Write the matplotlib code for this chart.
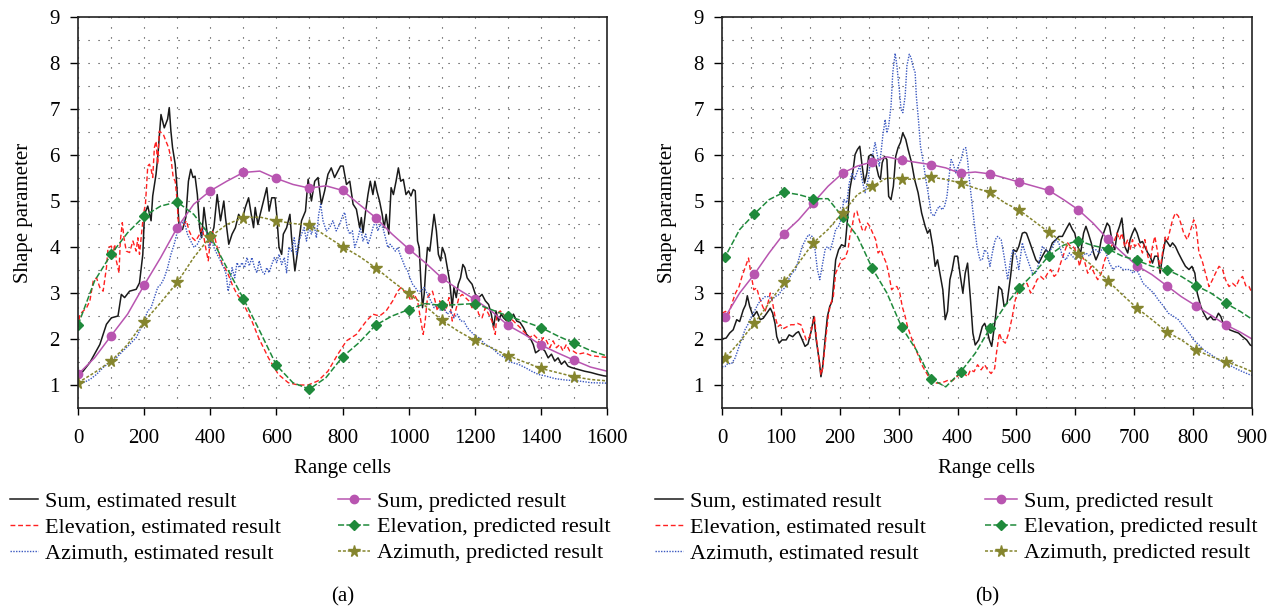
import numpy as np
import matplotlib
matplotlib.use("Agg")
import matplotlib.pyplot as plt
from matplotlib.legend import Legend

plt.rcParams['font.family'] = ['Liberation Serif', 'DejaVu Serif']
plt.rcParams['font.size'] = 15

# ---- panel (a): estimated shape parameter, pairs of (range cell, value) ----
sum_est_a = np.array([
    [0, 1.16], [36, 1.49], [66, 1.88], [86, 2.32], [101, 2.46], [121, 2.50], [131, 2.97], [141, 2.90],
    [156, 3.04], [176, 3.08], [186, 3.22], [196, 3.84], [201, 4.71], [211, 4.89], [221, 4.57], [226, 5.11],
    [236, 5.58], [241, 5.94], [251, 6.88], [261, 6.59], [271, 6.78], [276, 7.03], [281, 6.52], [286, 6.16],
    [294, 5.80], [298, 5.43], [306, 4.42], [316, 4.38], [326, 4.64], [334, 5.43], [341, 5.69], [348, 5.51],
    [354, 5.54], [361, 5.14], [368, 4.42], [374, 4.20], [381, 4.86], [386, 4.57], [391, 4.28], [401, 4.20],
    [411, 4.42], [421, 5.14], [431, 4.57], [441, 5.00], [446, 4.64], [456, 4.06], [466, 4.28], [476, 4.42],
    [486, 4.71], [496, 4.57], [506, 4.86], [516, 5.07], [524, 4.71], [531, 4.42], [536, 4.86], [544, 4.49],
    [551, 4.71], [561, 5.00], [571, 5.29], [578, 4.78], [586, 5.07], [596, 5.07], [601, 4.71], [608, 3.99],
    [616, 3.84], [621, 4.28], [631, 4.42], [641, 4.71], [646, 4.20], [656, 3.48], [666, 3.99], [676, 4.57],
    [688, 4.78], [696, 5.47], [706, 5.00], [716, 5.43], [726, 5.51], [736, 4.93], [746, 5.22], [756, 5.58],
    [766, 5.72], [776, 5.51], [786, 5.65], [794, 5.76], [802, 5.76], [812, 5.36], [822, 5.43], [832, 4.93],
    [842, 4.82], [852, 4.42], [857, 4.64], [862, 4.31], [870, 4.78], [877, 5.14], [884, 5.43], [892, 5.14],
    [898, 5.43], [904, 5.22], [912, 5.00], [920, 4.71], [926, 4.42], [932, 4.71], [940, 4.28], [947, 5.29],
    [954, 5.14], [962, 5.43], [969, 5.72], [976, 5.43], [984, 5.47], [992, 5.14], [1000, 5.22], [1007, 5.11],
    [1014, 5.25], [1020, 5.22], [1027, 4.13], [1032, 3.99], [1037, 3.26], [1042, 2.68], [1047, 2.97], [1052, 3.55],
    [1057, 3.99], [1064, 3.91], [1070, 4.28], [1077, 4.71], [1084, 4.35], [1090, 3.84], [1097, 3.70], [1102, 3.99],
    [1110, 3.84], [1117, 3.55], [1124, 3.26], [1132, 2.68], [1137, 3.12], [1144, 2.90], [1150, 3.19], [1157, 3.33],
    [1164, 3.62], [1170, 3.55], [1177, 3.33], [1184, 3.26], [1192, 3.19], [1202, 2.97], [1212, 2.90], [1222, 2.97],
    [1232, 2.83], [1242, 2.75], [1250, 2.54], [1257, 2.25], [1264, 2.61], [1272, 2.39], [1280, 2.54], [1287, 2.46],
    [1297, 2.39], [1307, 2.39], [1317, 2.54], [1327, 2.39], [1337, 2.36], [1347, 2.25], [1357, 2.10], [1367, 2.03],
    [1377, 1.88], [1384, 1.70], [1392, 1.74], [1402, 1.81], [1412, 1.74], [1422, 1.59], [1432, 1.67], [1442, 1.52],
    [1452, 1.59], [1462, 1.45], [1472, 1.52], [1482, 1.41], [1492, 1.38], [1512, 1.34], [1532, 1.30], [1552, 1.27],
    [1572, 1.23], [1590, 1.20], [1600, 1.19],
])

elev_est_a = np.array([
    [0, 2.25], [6, 2.54], [16, 2.61], [26, 2.68], [36, 2.83], [46, 3.26], [56, 3.33], [66, 3.12],
    [76, 3.04], [86, 3.55], [91, 3.99], [101, 4.02], [106, 3.84], [111, 4.06], [116, 3.70], [124, 3.44],
    [128, 4.13], [134, 4.53], [139, 4.20], [146, 3.91], [156, 3.88], [166, 4.13], [176, 3.91], [181, 4.20],
    [186, 3.84], [191, 4.20], [198, 4.71], [204, 4.93], [211, 5.76], [216, 5.80], [221, 5.69], [226, 5.51],
    [231, 6.16], [236, 6.30], [241, 5.80], [246, 6.52], [251, 6.49], [258, 6.45], [266, 6.30], [274, 6.16],
    [281, 5.94], [288, 5.51], [294, 5.43], [299, 5.07], [304, 4.49], [311, 4.42], [321, 4.49], [328, 4.57],
    [336, 4.35], [346, 4.20], [356, 4.13], [368, 4.28], [376, 4.42], [381, 4.20], [386, 3.99], [394, 3.70],
    [401, 4.20], [406, 4.35], [414, 4.20], [421, 3.99], [428, 3.84], [436, 3.62], [444, 3.55], [454, 3.41],
    [466, 3.19], [481, 2.97], [496, 2.83], [526, 2.39], [546, 2.03], [576, 1.59], [606, 1.23], [636, 1.05],
    [666, 1.00], [696, 1.00], [726, 1.09], [756, 1.30], [786, 1.67], [812, 1.96], [842, 2.10], [872, 2.39],
    [892, 2.54], [912, 2.50], [932, 2.61], [952, 2.83], [967, 3.04], [977, 3.12], [987, 3.04], [997, 2.97],
    [1007, 2.83], [1017, 2.97], [1027, 2.83], [1037, 2.39], [1044, 2.10], [1050, 2.39], [1057, 2.90], [1064, 2.97],
    [1072, 3.04], [1080, 2.83], [1087, 2.61], [1094, 2.83], [1102, 2.68], [1112, 2.61], [1122, 2.90], [1132, 2.39],
    [1142, 2.61], [1152, 2.90], [1162, 2.97], [1172, 2.90], [1182, 2.83], [1192, 2.68], [1202, 2.83], [1212, 2.54],
    [1222, 2.46], [1232, 2.68], [1242, 2.54], [1252, 2.39], [1262, 2.10], [1267, 2.54], [1277, 2.61], [1287, 2.54],
    [1297, 2.39], [1307, 2.46], [1317, 2.39], [1327, 2.32], [1337, 2.25], [1347, 2.17], [1357, 2.10], [1367, 2.03],
    [1377, 2.10], [1387, 2.03], [1397, 1.88], [1407, 2.03], [1417, 1.96], [1427, 1.81], [1437, 1.96], [1447, 1.81],
    [1457, 1.88], [1467, 1.74], [1477, 1.88], [1487, 1.74], [1497, 1.74], [1512, 1.67], [1532, 1.70], [1552, 1.64],
    [1572, 1.62], [1600, 1.60],
])

az_est_a = np.array([
    [0, 1.01], [16, 1.05], [36, 1.12], [56, 1.23], [76, 1.38], [96, 1.49], [116, 1.59], [136, 1.74],
    [156, 1.88], [176, 2.03], [196, 2.32], [211, 2.61], [221, 2.68], [231, 2.90], [241, 3.12], [251, 3.19],
    [261, 3.33], [271, 3.55], [281, 3.84], [291, 4.06], [301, 4.35], [311, 4.49], [321, 4.57], [331, 4.28],
    [341, 4.13], [351, 3.99], [361, 4.06], [371, 4.20], [381, 4.42], [388, 4.35], [396, 3.99], [404, 4.13],
    [411, 3.99], [421, 3.84], [431, 3.70], [441, 3.55], [448, 3.41], [454, 3.04], [461, 3.26], [466, 3.55],
    [474, 3.33], [481, 3.66], [488, 3.55], [496, 3.66], [504, 3.55], [511, 3.77], [518, 3.59], [526, 3.77],
    [534, 3.55], [541, 3.44], [548, 3.70], [556, 3.48], [564, 3.41], [571, 3.55], [578, 3.44], [586, 3.62],
    [594, 3.77], [601, 3.66], [608, 3.84], [616, 3.62], [624, 3.77], [631, 3.44], [638, 3.99], [646, 3.91],
    [654, 4.20], [661, 3.84], [668, 4.13], [676, 4.28], [684, 4.42], [691, 4.13], [698, 4.42], [706, 4.28],
    [714, 4.49], [721, 4.20], [728, 4.71], [734, 4.93], [741, 4.57], [751, 4.35], [761, 4.42], [771, 4.57],
    [781, 4.35], [791, 4.49], [802, 4.71], [807, 4.75], [814, 4.42], [822, 4.28], [830, 4.35], [837, 3.99],
    [847, 4.20], [854, 4.42], [862, 4.13], [870, 4.28], [877, 4.06], [884, 4.20], [892, 4.42], [900, 4.57],
    [907, 4.35], [914, 4.49], [922, 4.42], [930, 4.20], [937, 3.99], [944, 4.06], [952, 3.99], [960, 3.91],
    [967, 3.99], [974, 3.84], [982, 3.70], [990, 3.55], [997, 3.48], [1004, 3.33], [1012, 3.19], [1020, 3.12],
    [1028, 3.04], [1037, 3.04], [1047, 3.12], [1057, 2.97], [1067, 2.83], [1077, 2.68], [1087, 2.75], [1097, 2.61],
    [1107, 2.68], [1117, 2.54], [1127, 2.61], [1137, 2.46], [1147, 2.54], [1157, 2.39], [1167, 2.39], [1177, 2.25],
    [1187, 2.17], [1197, 2.10], [1212, 2.03], [1232, 1.88], [1252, 1.81], [1272, 1.67], [1292, 1.59], [1312, 1.49],
    [1332, 1.45], [1352, 1.38], [1372, 1.30], [1392, 1.23], [1412, 1.20], [1442, 1.14], [1472, 1.11], [1512, 1.09],
    [1552, 1.05], [1600, 1.04],
])

# ---- panel (a): predicted shape parameter, sampled every 50 cells ----
pred_x_a = np.arange(0, 1601, 50)
sum_pred_a = [1.23, 1.59, 2.07, 2.54, 3.17, 3.77, 4.42, 4.93, 5.22, 5.43, 5.62, 5.65, 5.49, 5.36, 5.28, 5.33, 5.23,
              4.93, 4.64, 4.28, 3.96, 3.66, 3.33, 3.08, 2.86, 2.61, 2.30, 2.10, 1.87, 1.70, 1.54, 1.39, 1.30]
elev_pred_a = [2.30, 3.26, 3.84, 4.31, 4.67, 4.89, 4.98, 4.71, 4.24, 3.55, 2.88, 2.17, 1.43, 1.05, 0.91, 1.16, 1.61,
               1.92, 2.30, 2.50, 2.64, 2.77, 2.73, 2.75, 2.77, 2.64, 2.50, 2.38, 2.25, 2.07, 1.91, 1.75, 1.63]
az_pred_a = [1.05, 1.27, 1.52, 1.88, 2.38, 2.79, 3.23, 3.77, 4.22, 4.49, 4.64, 4.65, 4.57, 4.51, 4.48, 4.24, 4.01,
             3.80, 3.55, 3.26, 2.99, 2.72, 2.41, 2.17, 1.97, 1.81, 1.64, 1.50, 1.36, 1.27, 1.18, 1.12, 1.09]

# ---- panel (b): estimated shape parameter ----
sum_est_b = np.array([
    [0, 2.00], [7, 2.02], [13, 2.13], [19, 2.20], [25, 2.42], [30, 2.38], [36, 2.63], [40, 2.74],
    [43, 2.94], [47, 2.71], [53, 2.49], [59, 2.60], [65, 2.42], [70, 2.45], [76, 2.56], [82, 2.67],
    [86, 2.56], [90, 2.34], [93, 2.05], [97, 1.91], [102, 1.98], [109, 1.98], [114, 2.09], [120, 2.05],
    [126, 2.13], [130, 2.16], [135, 2.02], [141, 1.84], [146, 1.89], [152, 2.20], [156, 2.49], [160, 1.98],
    [165, 1.54], [168, 1.18], [171, 1.40], [175, 1.98], [179, 2.49], [183, 2.71], [187, 2.82], [193, 3.72],
    [198, 3.94], [203, 4.05], [209, 4.01], [213, 4.59], [217, 5.25], [222, 5.61], [226, 6.01], [230, 6.12],
    [234, 6.19], [238, 5.76], [242, 5.39], [246, 5.61], [249, 5.97], [253, 6.01], [257, 5.97], [262, 5.76],
    [266, 5.54], [269, 5.47], [272, 5.83], [276, 5.97], [280, 5.90], [283, 5.10], [287, 5.03], [291, 5.32],
    [295, 5.97], [299, 6.16], [303, 6.27], [307, 6.48], [312, 6.34], [316, 6.12], [322, 5.83], [327, 5.47],
    [333, 5.18], [339, 4.74], [345, 4.45], [349, 4.30], [353, 4.38], [358, 4.01], [362, 3.58], [366, 3.72],
    [370, 3.43], [375, 3.07], [379, 2.42], [383, 2.60], [387, 3.29], [391, 3.51], [395, 3.80], [400, 3.80],
    [404, 3.43], [409, 3.00], [413, 3.43], [417, 3.65], [422, 2.85], [426, 2.13], [430, 1.87], [436, 1.98],
    [442, 2.27], [446, 2.34], [450, 2.20], [454, 1.98], [458, 1.84], [464, 2.42], [470, 3.14], [475, 3.07],
    [479, 2.71], [484, 2.78], [490, 3.36], [495, 3.94], [500, 3.90], [504, 4.01], [510, 4.30], [514, 4.32],
    [517, 4.30], [521, 4.16], [527, 3.94], [533, 3.72], [538, 3.65], [544, 3.80], [550, 3.94], [555, 3.87],
    [561, 4.09], [567, 4.16], [572, 4.23], [578, 4.23], [584, 4.38], [590, 4.52], [595, 4.38], [599, 4.30],
    [604, 4.01], [609, 3.87], [614, 4.30], [618, 4.45], [622, 4.30], [627, 4.09], [631, 3.87], [635, 3.72],
    [640, 3.87], [644, 4.16], [650, 4.38], [654, 4.52], [658, 4.45], [662, 4.16], [667, 3.94], [671, 4.30],
    [675, 4.45], [679, 4.63], [684, 4.01], [689, 3.87], [693, 4.16], [697, 4.30], [701, 4.41], [705, 4.30],
    [710, 4.09], [714, 4.12], [718, 4.01], [723, 3.87], [727, 3.80], [731, 3.65], [735, 3.80], [740, 3.80],
    [744, 3.43], [748, 3.80], [753, 4.16], [757, 4.09], [761, 4.01], [765, 4.09], [770, 4.01], [775, 3.87],
    [781, 3.72], [787, 3.58], [793, 3.51], [798, 3.58], [803, 3.43], [807, 3.00], [813, 2.71], [818, 2.56],
    [824, 2.42], [830, 2.49], [834, 2.42], [838, 2.42], [843, 2.56], [847, 2.49], [851, 2.34], [856, 2.27],
    [862, 2.20], [870, 2.16], [877, 2.13], [884, 2.05], [891, 1.98], [897, 1.87], [900, 1.85],
])

elev_est_b = np.array([
    [0, 2.56], [6, 2.60], [11, 2.52], [17, 2.78], [23, 3.00], [29, 3.14], [34, 3.36], [40, 3.58],
    [45, 3.76], [49, 3.43], [54, 3.07], [59, 3.11], [63, 2.92], [69, 2.71], [73, 2.60], [78, 2.78],
    [82, 3.00], [86, 2.78], [90, 2.49], [95, 2.27], [99, 2.31], [105, 2.23], [111, 2.27], [117, 2.31],
    [122, 2.31], [128, 2.34], [134, 2.31], [138, 2.16], [143, 1.98], [149, 2.05], [153, 2.27], [157, 2.49],
    [160, 2.05], [165, 1.54], [168, 1.22], [171, 1.36], [176, 1.98], [181, 2.56], [185, 2.78], [189, 2.92],
    [193, 3.43], [198, 3.58], [203, 3.72], [209, 3.76], [214, 3.94], [217, 4.23], [221, 4.45], [225, 4.74],
    [229, 4.78], [233, 4.59], [238, 4.38], [242, 4.34], [247, 4.52], [251, 4.45], [256, 4.30], [261, 4.16],
    [265, 3.87], [270, 3.94], [274, 3.80], [279, 3.65], [283, 3.43], [288, 3.07], [293, 3.14], [297, 3.14],
    [302, 3.00], [306, 2.71], [311, 2.49], [315, 2.27], [321, 2.05], [327, 1.84], [333, 1.65], [338, 1.47],
    [344, 1.33], [351, 1.18], [358, 1.07], [365, 1.04], [371, 1.05], [378, 1.07], [385, 1.11], [391, 1.09],
    [399, 1.18], [405, 1.25], [411, 1.25], [417, 1.18], [422, 1.33], [428, 1.29], [434, 1.44], [440, 1.33],
    [446, 1.44], [451, 1.33], [457, 1.25], [463, 1.36], [466, 1.69], [471, 2.13], [475, 1.98], [481, 1.91],
    [487, 2.13], [493, 2.49], [498, 2.85], [502, 3.00], [507, 3.07], [513, 3.21], [518, 3.21], [524, 3.00],
    [530, 3.14], [535, 3.29], [541, 3.36], [547, 3.29], [553, 3.43], [558, 3.51], [564, 3.36], [570, 3.43],
    [575, 3.65], [581, 3.87], [587, 4.09], [592, 4.01], [597, 4.00], [603, 3.87], [607, 3.58], [611, 3.80],
    [615, 3.72], [621, 3.43], [627, 3.58], [632, 3.43], [638, 3.29], [644, 3.43], [650, 3.72], [655, 3.87],
    [661, 4.01], [667, 4.16], [671, 4.30], [675, 4.16], [679, 4.30], [684, 4.01], [689, 4.16], [693, 3.94],
    [697, 4.16], [701, 4.01], [706, 4.09], [710, 4.01], [714, 3.87], [718, 4.16], [723, 3.80], [727, 3.65],
    [731, 4.01], [735, 4.23], [740, 3.87], [744, 3.51], [748, 3.87], [753, 4.23], [757, 4.16], [761, 4.38],
    [765, 4.59], [770, 4.74], [775, 4.67], [779, 4.52], [784, 4.30], [790, 4.16], [796, 4.38], [801, 4.59],
    [805, 4.45], [810, 3.87], [815, 3.72], [821, 3.43], [827, 3.14], [833, 3.29], [838, 3.43], [844, 3.58],
    [850, 3.51], [855, 3.29], [861, 3.14], [867, 3.21], [873, 3.14], [878, 3.29], [884, 3.36], [890, 3.14],
    [895, 3.14], [900, 3.00],
])

az_est_b = np.array([
    [0, 1.40], [5, 1.40], [10, 1.47], [16, 1.46], [22, 1.58], [27, 1.76], [33, 1.98], [39, 2.20],
    [45, 2.34], [50, 2.49], [56, 2.63], [62, 2.78], [67, 2.85], [73, 2.92], [79, 2.92], [85, 2.85],
    [90, 2.92], [96, 2.96], [102, 3.07], [107, 3.11], [113, 3.29], [119, 3.43], [125, 3.51], [130, 3.72],
    [136, 4.01], [142, 4.16], [147, 4.27], [153, 4.23], [158, 3.94], [162, 3.51], [166, 3.29], [170, 3.58],
    [175, 3.94], [179, 4.01], [184, 3.94], [189, 4.16], [193, 4.38], [198, 4.45], [202, 4.59], [207, 5.03],
    [212, 4.96], [216, 5.39], [221, 5.61], [225, 5.47], [230, 5.65], [234, 5.76], [239, 5.39], [243, 5.18],
    [248, 5.47], [251, 5.76], [256, 6.01], [260, 6.27], [263, 6.05], [267, 5.76], [270, 6.05], [273, 6.41],
    [277, 6.77], [280, 6.48], [283, 6.63], [287, 7.06], [290, 7.79], [294, 8.21], [297, 7.94], [301, 7.43],
    [304, 6.99], [307, 6.92], [311, 7.28], [314, 7.94], [318, 8.19], [321, 8.12], [324, 7.94], [328, 7.79],
    [330, 7.28], [334, 6.70], [337, 6.19], [342, 5.83], [346, 5.47], [351, 5.10], [355, 4.74], [360, 4.67],
    [365, 4.81], [369, 4.89], [374, 4.81], [378, 4.89], [382, 5.10], [385, 5.47], [389, 5.90], [392, 5.83],
    [397, 5.61], [401, 5.76], [406, 5.90], [410, 6.12], [414, 6.16], [417, 5.90], [420, 5.47], [425, 4.89],
    [429, 4.45], [433, 4.01], [438, 3.72], [442, 3.72], [446, 3.94], [451, 3.87], [455, 3.58], [459, 3.87],
    [464, 4.16], [468, 4.23], [474, 4.16], [479, 3.80], [485, 3.29], [490, 3.72], [494, 3.94], [500, 3.80],
    [504, 3.51], [510, 4.09], [515, 3.87], [521, 3.65], [527, 3.43], [533, 3.43], [538, 3.65], [544, 4.01],
    [550, 3.94], [555, 3.87], [561, 4.01], [567, 4.16], [572, 4.09], [578, 3.80], [584, 3.72], [590, 3.87],
    [595, 3.80], [601, 3.72], [607, 3.87], [612, 3.80], [618, 3.87], [624, 3.80], [630, 3.94], [635, 3.94],
    [641, 3.87], [647, 3.98], [652, 3.87], [658, 3.65], [664, 3.51], [670, 3.58], [675, 3.58], [681, 3.51],
    [687, 3.51], [693, 3.51], [698, 3.43], [704, 3.51], [710, 3.36], [715, 3.21], [721, 3.14], [727, 3.07],
    [733, 3.00], [741, 2.85], [750, 2.71], [758, 2.56], [767, 2.49], [775, 2.42], [784, 2.27], [793, 2.13],
    [801, 1.98], [810, 1.87], [818, 1.76], [827, 1.69], [835, 1.62], [844, 1.54], [852, 1.51], [861, 1.44],
    [872, 1.36], [884, 1.29], [895, 1.23], [900, 1.21],
])

# ---- panel (b): predicted shape parameter (markers every 50 cells from 5) ----
pred_x_b = [0, 5, 30, 55, 80, 105, 130, 155, 180, 205, 230, 255, 280, 305, 330, 355, 380, 405, 430,
            455, 480, 505, 530, 555, 580, 605, 630, 655, 680, 705, 730, 755, 780, 805, 830, 855, 880, 900]
sum_pred_b = [2.45, 2.47, 3.00, 3.41, 3.87, 4.29, 4.59, 4.96, 5.32, 5.61, 5.76, 5.85, 5.96, 5.89, 5.84, 5.79,
              5.72, 5.60, 5.63, 5.59, 5.50, 5.41, 5.32, 5.23, 5.03, 4.81, 4.52, 4.17, 3.87, 3.59, 3.40, 3.16,
              2.92, 2.72, 2.52, 2.31, 2.15, 2.00]
elev_pred_b = [3.78, 3.78, 4.38, 4.72, 5.03, 5.19, 5.14, 5.05, 5.05, 4.65, 4.23, 3.54, 3.00, 2.26, 1.76, 1.13,
               0.96, 1.28, 1.69, 2.23, 2.71, 3.11, 3.43, 3.81, 4.04, 4.14, 4.03, 3.96, 3.80, 3.71, 3.58, 3.51,
               3.36, 3.16, 3.00, 2.78, 2.60, 2.43]
az_pred_b = [1.58, 1.58, 1.94, 2.34, 2.78, 3.23, 3.65, 4.09, 4.38, 4.75, 5.14, 5.32, 5.50, 5.48, 5.47, 5.52,
             5.47, 5.39, 5.28, 5.19, 4.96, 4.80, 4.56, 4.32, 4.09, 3.85, 3.58, 3.27, 2.96, 2.67, 2.42, 2.16,
             1.98, 1.76, 1.62, 1.51, 1.40, 1.29]

est_labels = ["Sum, estimated result", "Elevation, estimated result", "Azimuth, estimated result"]
pred_labels = ["Sum, predicted result", "Elevation, predicted result", "Azimuth, predicted result"]

est_styles = [
    dict(color="#1a1a1a", lw=1.1, ls="-"),
    dict(color="#ff2020", lw=1.0, ls=(0, (3.5, 2))),
    dict(color="#3a58c0", lw=1.0, ls=(0, (1, 1))),
]
pred_styles = [
    dict(color="#b855b0", lw=1.1, ls="-", marker="o", ms=6),
    dict(color="#1f8a3b", lw=1.1, ls=(0, (4, 1.5)), marker="D", ms=5.5),
    dict(color="#85852e", lw=1.1, ls=(0, (2, 1.2)), marker="*", ms=8.5),
]

W, H = 1278, 609
fig = plt.figure(figsize=(W / 100, H / 100), dpi=100)


def draw_panel(left_px, width_px, est, pred_x, pred, mark, xmax, xtick, xgrid, leg_x, tag):
    ax = fig.add_axes([left_px / W, 1 - 408 / H, width_px / W, 391 / H])
    lines = []
    for arr, st, lab in zip(est, est_styles, est_labels):
        ln, = ax.plot(arr[:, 0], arr[:, 1], label=lab, **st)
        lines.append(ln)
    for vals, st, lab in zip(pred, pred_styles, pred_labels):
        ln, = ax.plot(pred_x, vals, label=lab, markevery=mark, mec=st["color"], mfc=st["color"], **st)
        lines.append(ln)

    ax.set_xlim(0, xmax)
    ax.set_ylim(0.5, 9)
    ax.set_xticks(np.arange(0, xmax + 1, xtick))
    ax.set_yticks(np.arange(1, 10, 1))
    ax.set_xticks(np.arange(0, xmax + 1, xgrid), minor=True)
    ax.set_yticks(np.arange(0.5, 9.01, 0.5), minor=True)
    ax.grid(which="both", color="#333333", lw=0.8, ls=(0, (1, 8)))
    ax.tick_params(which="minor", length=0)
    ax.tick_params(axis="x", which="major", direction="out", length=5, width=1, pad=10, labelsize=15)
    ax.tick_params(axis="y", which="major", direction="out", length=6, width=1, pad=7, labelsize=15)
    for sp in ax.spines.values():
        sp.set_linewidth(1.2)
        sp.set_color("#222222")
    ax.set_xlabel("Range cells", labelpad=8, fontsize=15)
    ax.set_ylabel("Shape parameter", labelpad=12, fontsize=15)

    # two-column legend under the axes, built as two separate blocks
    for col, (x0, hl) in enumerate(zip(leg_x, (1.25, 1.45))):
        handles = lines[3 * col:3 * col + 3]
        leg = Legend(ax, handles, [h.get_label() for h in handles], loc="upper left",
                     bbox_to_anchor=(x0 / W, 1 - 491 / H), bbox_transform=fig.transFigure,
                     frameon=False, borderpad=0, borderaxespad=0, handlelength=hl,
                     handletextpad=0.32, labelspacing=0.24, fontsize=16)
        ax.add_artist(leg)
    fig.text((left_px + width_px / 2) / W, 1 - 597 / H, tag, ha="center", va="center", fontsize=15)
    return ax


draw_panel(78, 529, [sum_est_a, elev_est_a, az_est_a], pred_x_a, [sum_pred_a, elev_pred_a, az_pred_a],
           slice(0, 31, 2), 1600, 200, 100, [10, 338], "(a)")
draw_panel(722, 530, [sum_est_b, elev_est_b, az_est_b], pred_x_b, [sum_pred_b, elev_pred_b, az_pred_b],
           slice(1, 36, 2), 900, 100, 50, [655, 985], "(b)")

fig.savefig("out.png", dpi=100)
